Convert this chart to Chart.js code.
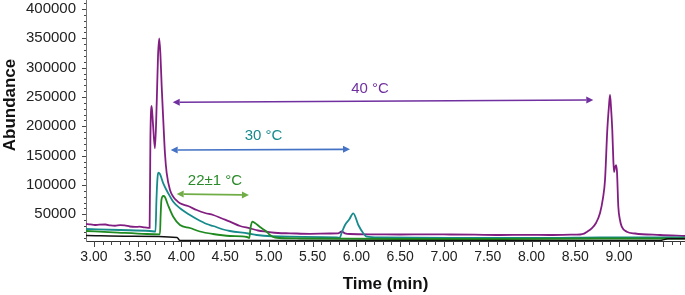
<!DOCTYPE html>
<html>
<head>
<meta charset="utf-8">
<script src="https://cdn.jsdelivr.net/npm/chart.js@4/dist/chart.umd.min.js"></script>
<style>
  html, body { margin: 0; padding: 0; background: #fff; }
  canvas { display: block; }
</style>
</head>
<body>
<canvas id="myChart" width="685" height="295"></canvas>
<script>
// retention time (min) and abundance
const purpleTime = [2.909, 2.96, 3.01, 3.06, 3.13, 3.19, 3.24, 3.30, 3.35, 3.41, 3.47, 3.52, 3.58, 3.62, 3.636, 3.645, 3.659, 3.674, 3.697, 3.717, 3.732, 3.746, 3.76, 3.774, 3.792, 3.811, 3.831, 3.869, 3.906, 3.937, 3.983, 4.074, 4.174, 4.269, 4.363, 4.463, 4.554, 4.669, 4.783, 4.874, 4.974, 5.103, 5.24, 5.469, 5.697, 5.789, 5.831, 5.869, 5.926, 6.2, 6.497, 6.8, 7.069, 7.35, 7.64, 7.95, 8.211, 8.45, 8.554, 8.6, 8.631, 8.688, 8.737, 8.783, 8.817, 8.84, 8.866, 8.886, 8.897, 8.909, 8.923, 8.935, 8.943, 8.954, 8.966, 8.977, 8.992, 9.011, 9.031, 9.088, 9.183, 9.469, 9.754]
const purpleAbund = [33500, 32800, 31800, 32400, 32600, 31000, 30500, 31500, 31200, 29200, 28400, 29000, 27600, 26900, 26800, 180000, 234600, 205000, 162500, 239700, 320000, 350000, 320000, 267500, 210800, 154500, 120400, 91400, 80000, 74400, 68750, 64150, 57300, 52200, 48800, 42800, 37400, 30050, 26130, 22380, 20340, 18120, 17600, 16760, 17270, 17400, 20680, 17600, 16410, 15900, 15560, 15800, 15560, 15200, 14710, 15000, 14710, 15200, 15560, 17000, 19820, 26130, 35170, 52200, 77800, 108500, 193700, 236300, 253400, 231200, 193700, 142600, 122100, 130000, 134000, 122100, 62950, 40280, 28860, 20340, 17270, 14710, 13000]

const tealTime = [2.909, 3.297, 3.64, 3.703, 3.714, 3.726, 3.735, 3.754, 3.792, 3.849, 3.906, 3.983, 4.097, 4.174, 4.289, 4.363, 4.478, 4.554, 4.763, 4.859, 5.24, 5.774, 5.806, 5.834, 5.869, 5.918, 5.963, 6.021, 6.078, 6.117, 6.269, 7.069, 8.211, 8.783, 9.754]
const tealAbund = [24940, 23230, 21530, 20680, 74400, 111900, 120900, 118700, 102800, 85800, 71480, 60230, 48800, 42000, 33460, 30050, 24090, 21530, 17270, 14710, 11810, 10790, 9600, 19820, 31760, 41470, 51700, 31760, 17610, 11810, 10450, 9600, 9600, 10450, 10450]

const greenTime = [2.909, 3.217, 3.602, 3.754, 3.762, 3.771, 3.792, 3.811, 3.846, 3.906, 3.983, 4.097, 4.211, 4.36, 4.554, 4.749, 4.775, 4.789, 4.809, 4.84, 4.897, 4.974, 5.011, 5.069, 5.354, 6.497, 7.64, 8.783, 9.754]
const greenAbund = [21530, 19310, 16410, 15900, 48800, 74400, 81200, 79490, 65850, 45900, 31760, 26640, 20680, 16410, 13000, 11300, 9600, 26640, 37380, 35170, 28350, 20340, 14710, 10450, 8750, 7890, 7890, 8750, 8750]

const blackTime = [2.909, 3.411, 3.949, 3.983, 5.354, 9.469, 9.56, 9.754]
const blackAbund = [13860, 12500, 10450, 5340, 5340, 5340, 8230, 8230]

// labelled axis ticks
const timeTicks = [3.0, 3.5, 4.0, 4.5, 5.0, 5.5, 6.0, 6.5, 7.0, 7.5, 8.0, 8.5, 9.0]
const abundTicks = [50000, 100000, 150000, 200000, 250000, 300000, 350000, 400000]

// temperature arrows: label, start/end time, abundance level at each end
const arrowLabels = ["40 °C", "30 °C", "22±1 °C"]
const arrowStart = [3.90, 3.877, 3.945]
const arrowEnd = [8.706, 5.926, 4.771]
const arrowStartLevel = [240900, 159600, 84600]
const arrowEndLevel = [244850, 160800, 82900]
const labelTime = [6.154, 4.937, 4.383]
const labelLevel = [263600, 183500, 106800]

const FONT = "'Liberation Sans', Arial, Helvetica, sans-serif"
const arrowColors = ["#7030a0", "#4472c4", "#70ad47"]
const labelColors = ["#7030a0", "#178a8c", "#2a8a2a"]

const toPoints = (times, vals) => times.map((t, i) => ({ x: t, y: vals[i] }))

const extras = {
  id: "extras",
  afterDraw(chart) {
    const { ctx, scales: { x, y } } = chart
    ctx.save()
    // tick marks, major every 0.5 min / 50000, minor between
    ctx.strokeStyle = "#444"
    ctx.lineWidth = 1
    ctx.beginPath()
    for (let i = 30; i <= 97; i++) {
      const px = Math.round(x.getPixelForValue(i / 10)) + 0.5
      const len = i % 5 === 0 ? 6 : 4
      ctx.moveTo(px, y.bottom)
      ctx.lineTo(px, y.bottom + len)
    }
    for (let i = 1; i <= 41; i++) {
      const py = Math.round(y.getPixelForValue(i * 10000)) + 0.5
      const len = i % 5 === 0 ? 4 : 2
      ctx.moveTo(x.left, py)
      ctx.lineTo(x.left - len, py)
    }
    ctx.stroke()

    // axis titles
    ctx.fillStyle = "#111"
    ctx.font = "bold 17px " + FONT
    ctx.textAlign = "center"
    ctx.textBaseline = "middle"
    ctx.fillText("Time (min)", (x.left + x.right) / 2, 284)
    ctx.save()
    ctx.translate(15, 105)
    ctx.rotate(-Math.PI / 2)
    ctx.textBaseline = "alphabetic"
    ctx.fillText("Abundance", 0, 0)
    ctx.restore()

    // double-headed arrows
    arrowLabels.forEach((lab, i) => {
      const x1 = x.getPixelForValue(arrowStart[i])
      const x2 = x.getPixelForValue(arrowEnd[i])
      const y1 = y.getPixelForValue(arrowStartLevel[i])
      const y2 = y.getPixelForValue(arrowEndLevel[i])
      const ang = Math.atan2(y2 - y1, x2 - x1)
      const head = 7, half = 3.5
      ctx.strokeStyle = arrowColors[i]
      ctx.fillStyle = arrowColors[i]
      ctx.lineWidth = 1.6
      ctx.beginPath()
      ctx.moveTo(x1 + Math.cos(ang) * head, y1 + Math.sin(ang) * head)
      ctx.lineTo(x2 - Math.cos(ang) * head, y2 - Math.sin(ang) * head)
      ctx.stroke()
      ;[[x1, y1, ang + Math.PI], [x2, y2, ang]].forEach(([hx, hy, a]) => {
        ctx.beginPath()
        ctx.moveTo(hx, hy)
        ctx.lineTo(hx - Math.cos(a) * head - Math.sin(a) * half, hy - Math.sin(a) * head + Math.cos(a) * half)
        ctx.lineTo(hx - Math.cos(a) * head + Math.sin(a) * half, hy - Math.sin(a) * head - Math.cos(a) * half)
        ctx.closePath()
        ctx.fill()
      })
      ctx.fillStyle = labelColors[i]
      ctx.font = "15px " + FONT
      ctx.textAlign = "center"
      ctx.textBaseline = "middle"
      ctx.fillText(lab, x.getPixelForValue(labelTime[i]), y.getPixelForValue(labelLevel[i]))
    })
    ctx.restore()
  }
}

const ctx = document.getElementById("myChart").getContext("2d")
new Chart(ctx, {
  type: "line",
  data: {
    datasets: [
      { label: "blank", data: toPoints(blackTime, blackAbund), borderColor: "#111111", borderWidth: 1.5 },
      { label: "22±1 °C", data: toPoints(greenTime, greenAbund), borderColor: "#1f8a1f", borderWidth: 1.8 },
      { label: "30 °C", data: toPoints(tealTime, tealAbund), borderColor: "#178a8c", borderWidth: 1.8 },
      { label: "40 °C", data: toPoints(purpleTime, purpleAbund), borderColor: "#821e82", borderWidth: 1.8 }
    ]
  },
  options: {
    responsive: false,
    animation: false,
    events: [],
    layout: { padding: 0 },
    elements: {
      point: { radius: 0 },
      line: { cubicInterpolationMode: "monotone", fill: false }
    },
    plugins: { legend: { display: false }, tooltip: { enabled: false } },
    scales: {
      x: {
        type: "linear",
        min: 2.909,
        max: 9.754,
        afterBuildTicks: scale => { scale.ticks = timeTicks.map(v => ({ value: v })) },
        afterFit: scale => { scale.height = 54 },
        grid: { display: false, drawTicks: true, tickLength: 5 },
        border: { display: true, color: "#333", width: 1 },
        ticks: {
          autoSkip: false,
          maxRotation: 0,
          padding: 3,
          color: "#222",
          font: { family: FONT, size: 14 },
          callback: v => v.toFixed(2)
        }
      },
      y: {
        type: "linear",
        min: 4483,
        max: 415340,
        afterBuildTicks: scale => { scale.ticks = abundTicks.map(v => ({ value: v })) },
        afterFit: scale => {
          scale.width = 86
          scale.paddingTop = 0
          scale.paddingBottom = 0
        },
        grid: { display: false, drawTicks: true, tickLength: 4 },
        border: { display: true, color: "#777", width: 1 },
        ticks: {
          autoSkip: false,
          padding: 6,
          color: "#222",
          font: { family: FONT, size: 15 },
          callback: v => String(v)
        }
      }
    }
  },
  plugins: [extras]
})
</script>
</body>
</html>
